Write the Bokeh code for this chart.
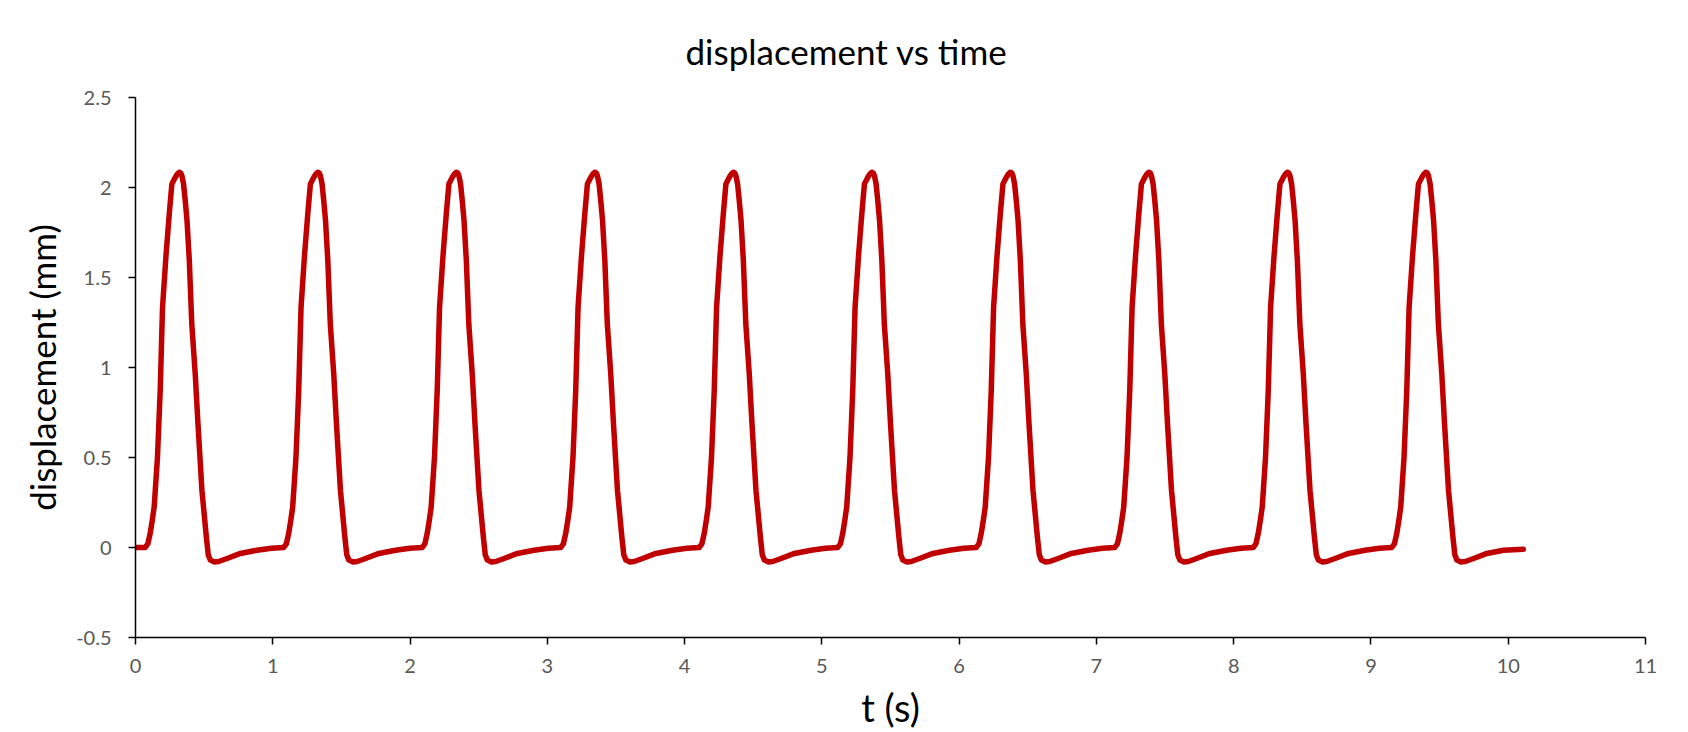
from bokeh.plotting import figure
from bokeh.models import Range1d, FixedTicker
from bokeh.embed import file_html
from bokeh.resources import INLINE

# time (s), one row per pulse
time_s = [
    0, 0.07, 0.09, 0.107, 0.122, 0.136, 0.16, 0.18, 0.197, 0.222, 0.246, 0.265, 0.29, 0.305, 0.319, 0.33, 0.338, 0.35, 0.362, 0.375, 0.392, 0.41, 0.435, 0.455, 0.484, 0.516, 0.53, 0.545, 0.575, 0.606, 0.667, 0.764, 0.885, 0.99,
    1.079, 1.099, 1.116, 1.131, 1.145, 1.169, 1.189, 1.206, 1.231, 1.255, 1.274, 1.299, 1.314, 1.328, 1.339, 1.347, 1.359, 1.371, 1.384, 1.401, 1.419, 1.444, 1.464, 1.493, 1.525, 1.539, 1.554, 1.584, 1.615, 1.676, 1.773, 1.894, 1.999,
    2.088, 2.108, 2.125, 2.14, 2.154, 2.178, 2.198, 2.215, 2.24, 2.264, 2.283, 2.308, 2.323, 2.337, 2.348, 2.356, 2.368, 2.38, 2.393, 2.41, 2.428, 2.453, 2.473, 2.502, 2.534, 2.548, 2.563, 2.593, 2.624, 2.685, 2.782, 2.903, 3.008,
    3.097, 3.117, 3.134, 3.149, 3.163, 3.187, 3.207, 3.224, 3.249, 3.273, 3.292, 3.317, 3.332, 3.346, 3.357, 3.365, 3.377, 3.389, 3.402, 3.419, 3.437, 3.462, 3.482, 3.511, 3.543, 3.557, 3.572, 3.602, 3.633, 3.694, 3.791, 3.912, 4.017,
    4.106, 4.126, 4.143, 4.158, 4.172, 4.196, 4.216, 4.233, 4.258, 4.282, 4.301, 4.326, 4.341, 4.355, 4.366, 4.374, 4.386, 4.398, 4.411, 4.428, 4.446, 4.471, 4.491, 4.52, 4.552, 4.566, 4.581, 4.611, 4.642, 4.703, 4.8, 4.921, 5.026,
    5.115, 5.135, 5.152, 5.167, 5.181, 5.205, 5.225, 5.242, 5.267, 5.291, 5.31, 5.335, 5.35, 5.364, 5.375, 5.383, 5.395, 5.407, 5.42, 5.437, 5.455, 5.48, 5.5, 5.529, 5.561, 5.575, 5.59, 5.62, 5.651, 5.712, 5.809, 5.93, 6.035,
    6.124, 6.144, 6.161, 6.176, 6.19, 6.214, 6.234, 6.251, 6.276, 6.3, 6.319, 6.344, 6.359, 6.373, 6.384, 6.392, 6.404, 6.416, 6.429, 6.446, 6.464, 6.489, 6.509, 6.538, 6.57, 6.584, 6.599, 6.629, 6.66, 6.721, 6.818, 6.939, 7.044,
    7.133, 7.153, 7.17, 7.185, 7.199, 7.223, 7.243, 7.26, 7.285, 7.309, 7.328, 7.353, 7.368, 7.382, 7.393, 7.401, 7.413, 7.425, 7.438, 7.455, 7.473, 7.498, 7.518, 7.547, 7.579, 7.593, 7.608, 7.638, 7.669, 7.73, 7.827, 7.948, 8.053,
    8.142, 8.162, 8.179, 8.194, 8.208, 8.232, 8.252, 8.269, 8.294, 8.318, 8.337, 8.362, 8.377, 8.391, 8.402, 8.41, 8.422, 8.434, 8.447, 8.464, 8.482, 8.507, 8.527, 8.556, 8.588, 8.602, 8.617, 8.647, 8.678, 8.739, 8.836, 8.957, 9.062,
    9.151, 9.171, 9.188, 9.203, 9.217, 9.241, 9.261, 9.278, 9.303, 9.327, 9.346, 9.371, 9.386, 9.4, 9.411, 9.419, 9.431, 9.443, 9.456, 9.473, 9.491, 9.516, 9.536, 9.565, 9.597, 9.611, 9.626, 9.656, 9.687, 9.748, 9.845, 9.966, 10.11,
]

# displacement (mm), one row per pulse
displacement_mm = [
    0, 0, 0.02, 0.078, 0.15, 0.225, 0.5, 0.873, 1.335, 1.62, 1.853, 2.02, 2.057, 2.075, 2.085, 2.08, 2.065, 2.02, 1.93, 1.82, 1.595, 1.243, 0.966, 0.688, 0.318, 0.059, -0.04, -0.07, -0.08, -0.078, -0.061, -0.033, -0.015, -0.004,
    0, 0.02, 0.078, 0.15, 0.225, 0.5, 0.873, 1.335, 1.62, 1.853, 2.02, 2.057, 2.075, 2.085, 2.08, 2.065, 2.02, 1.93, 1.82, 1.595, 1.243, 0.966, 0.688, 0.318, 0.059, -0.04, -0.07, -0.08, -0.078, -0.061, -0.033, -0.015, -0.004,
    0, 0.02, 0.078, 0.15, 0.225, 0.5, 0.873, 1.335, 1.62, 1.853, 2.02, 2.057, 2.075, 2.085, 2.08, 2.065, 2.02, 1.93, 1.82, 1.595, 1.243, 0.966, 0.688, 0.318, 0.059, -0.04, -0.07, -0.08, -0.078, -0.061, -0.033, -0.015, -0.004,
    0, 0.02, 0.078, 0.15, 0.225, 0.5, 0.873, 1.335, 1.62, 1.853, 2.02, 2.057, 2.075, 2.085, 2.08, 2.065, 2.02, 1.93, 1.82, 1.595, 1.243, 0.966, 0.688, 0.318, 0.059, -0.04, -0.07, -0.08, -0.078, -0.061, -0.033, -0.015, -0.004,
    0, 0.02, 0.078, 0.15, 0.225, 0.5, 0.873, 1.335, 1.62, 1.853, 2.02, 2.057, 2.075, 2.085, 2.08, 2.065, 2.02, 1.93, 1.82, 1.595, 1.243, 0.966, 0.688, 0.318, 0.059, -0.04, -0.07, -0.08, -0.078, -0.061, -0.033, -0.015, -0.004,
    0, 0.02, 0.078, 0.15, 0.225, 0.5, 0.873, 1.335, 1.62, 1.853, 2.02, 2.057, 2.075, 2.085, 2.08, 2.065, 2.02, 1.93, 1.82, 1.595, 1.243, 0.966, 0.688, 0.318, 0.059, -0.04, -0.07, -0.08, -0.078, -0.061, -0.033, -0.015, -0.004,
    0, 0.02, 0.078, 0.15, 0.225, 0.5, 0.873, 1.335, 1.62, 1.853, 2.02, 2.057, 2.075, 2.085, 2.08, 2.065, 2.02, 1.93, 1.82, 1.595, 1.243, 0.966, 0.688, 0.318, 0.059, -0.04, -0.07, -0.08, -0.078, -0.061, -0.033, -0.015, -0.004,
    0, 0.02, 0.078, 0.15, 0.225, 0.5, 0.873, 1.335, 1.62, 1.853, 2.02, 2.057, 2.075, 2.085, 2.08, 2.065, 2.02, 1.93, 1.82, 1.595, 1.243, 0.966, 0.688, 0.318, 0.059, -0.04, -0.07, -0.08, -0.078, -0.061, -0.033, -0.015, -0.004,
    0, 0.02, 0.078, 0.15, 0.225, 0.5, 0.873, 1.335, 1.62, 1.853, 2.02, 2.057, 2.075, 2.085, 2.08, 2.065, 2.02, 1.93, 1.82, 1.595, 1.243, 0.966, 0.688, 0.318, 0.059, -0.04, -0.07, -0.08, -0.078, -0.061, -0.033, -0.015, -0.004,
    0, 0.02, 0.078, 0.15, 0.225, 0.5, 0.873, 1.335, 1.62, 1.853, 2.02, 2.057, 2.075, 2.085, 2.08, 2.065, 2.02, 1.93, 1.82, 1.595, 1.243, 0.966, 0.688, 0.318, 0.059, -0.04, -0.07, -0.08, -0.078, -0.061, -0.033, -0.015, -0.01,
]

x_ticks = [0, 1, 2, 3, 4, 5, 6, 7, 8, 9, 10, 11]
x_tick_labels = ["0", "1", "2", "3", "4", "5", "6", "7", "8", "9", "10", "11"]
y_ticks = [-0.5, 0, 0.5, 1, 1.5, 2, 2.5]
y_tick_labels = ["-0.5", "0", "0.5", "1", "1.5", "2", "2.5"]

FONT = "Lato"

p = figure(
    width=1688, height=732,
    output_backend="svg", toolbar_location=None,
    x_range=Range1d(0, 11), y_range=Range1d(-0.5, 2.5),
    min_border_left=135, min_border_right=43, min_border_top=97, min_border_bottom=95,
    title="displacement vs time",
)
p.outline_line_color = None
p.xgrid.grid_line_color = None
p.ygrid.grid_line_color = None

p.title.align = "left"
p.title.offset = 550
p.title.text_font = FONT
p.title.text_font_size = "35px"
p.title.text_font_style = "normal"
p.title.text_color = "#000000"
p.title.standoff = 52

p.line(time_s, displacement_mm, line_color="#C00000", line_width=5.5,
       line_join="round", line_cap="round")

for ax, ticks, labels in ((p.xaxis[0], x_ticks, x_tick_labels), (p.yaxis[0], y_ticks, y_tick_labels)):
    ax.ticker = FixedTicker(ticks=ticks)
    ax.major_label_overrides = {t: l for t, l in zip(ticks, labels)}
    ax.minor_tick_line_color = None
    ax.major_tick_in = 0
    ax.major_tick_out = 7
    ax.axis_line_color = "#000000"
    ax.axis_line_width = 1.5
    ax.major_tick_line_color = "#000000"
    ax.major_tick_line_width = 1.5
    ax.major_label_text_font = FONT
    ax.major_label_text_font_size = "20px"
    ax.major_label_text_color = "#595959"
    ax.axis_label_text_font = FONT
    ax.axis_label_text_font_style = "normal"
    ax.axis_label_text_color = "#000000"

p.xaxis.axis_label = "t (s)"
p.yaxis.axis_label = "displacement (mm)"
p.xaxis.axis_label_text_font_size = "38px"
p.yaxis.axis_label_text_font_size = "35px"
p.xaxis.major_label_standoff = 14
p.yaxis.major_label_standoff = 17
p.xaxis.axis_label_standoff = 8
p.yaxis.axis_label_standoff = 10

open("out.html", "w").write(file_html(p, INLINE))
